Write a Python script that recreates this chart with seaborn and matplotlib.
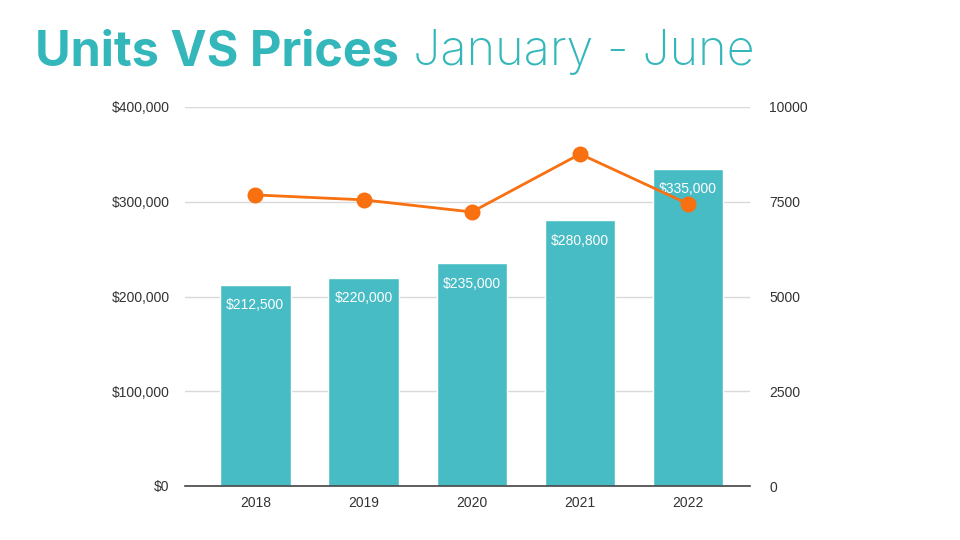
import matplotlib
matplotlib.use("Agg")
import matplotlib.pyplot as plt
import seaborn as sns
import pandas as pd
from matplotlib.ticker import FuncFormatter

years = ["2018", "2019", "2020", "2021", "2022"]
prices = [212500, 220000, 235000, 280800, 335000]
units = [7680, 7550, 7230, 8760, 7440]
price_ticks = [0, 100000, 200000, 300000, 400000]
unit_ticks = [0, 2500, 5000, 7500, 10000]

title_bold = "Units VS Prices"
title_light = "January - June"

BAR = "#47BCC5"
ORANGE = "#F8700F"
TEAL_T = "#33B7BB"
TICK = "#333333"

sns.set_theme(style="white")
plt.rcParams['font.family'] = ['Liberation Sans', 'DejaVu Sans']

df = pd.DataFrame({"year": years, "price": prices, "units": units})

fig = plt.figure(figsize=(9.6, 5.4), dpi=100)
fig.patch.set_facecolor("white")
ax = fig.add_axes([185/960, 1-486/540, (750-185)/960, (486-107)/540])

sns.barplot(data=df, x="year", y="price", color=BAR, width=0.65, saturation=1,
            ax=ax, zorder=2)
ax.set_ylim(0, 400000)
ax.set_xlim(-0.65, 4.57)
ax.set_yticks(price_ticks)
ax.yaxis.set_major_formatter(FuncFormatter(lambda v, p: f"${v:,.0f}"))
ax.grid(axis="y", color="#d9d9d9", linewidth=1, zorder=0)
ax.set_axisbelow(True)
for s in ["top", "right", "left"]:
    ax.spines[s].set_visible(False)
ax.spines["bottom"].set_color("#444444")
ax.spines["bottom"].set_linewidth(1.2)
ax.spines["bottom"].set_zorder(3)
ax.set_xlabel("")
ax.set_ylabel("")
ax.tick_params(axis="both", length=0, labelsize=10, colors=TICK)
ax.tick_params(axis="y", pad=11)
ax.tick_params(axis="x", pad=7)

ax.bar_label(ax.containers[0], labels=[f"${v:,.0f}" for v in prices],
             padding=-20, color="white", fontsize=10)

ax2 = ax.twinx()
sns.pointplot(data=df, x="year", y="units", color=ORANGE, ax=ax2,
              markers="o", markersize=10, linewidth=2, zorder=5)
ax2.set_ylim(0, 10000)
ax2.set_xlim(-0.65, 4.57)
ax2.set_yticks(unit_ticks)
ax2.set_yticklabels([str(t) for t in unit_ticks])
for s in ax2.spines.values():
    s.set_visible(False)
ax2.set_ylabel("")
ax2.set_xlabel("")
ax2.tick_params(axis="y", length=0, labelsize=10, colors=TICK, pad=14)
ax2.grid(False)

t1 = fig.text(35/960, 1-65/540, title_bold, fontsize=35, fontweight="bold",
              color=TEAL_T, family=["Inter", "DejaVu Sans"], va="baseline")
fig.canvas.draw()
bb = t1.get_window_extent(renderer=fig.canvas.get_renderer())
x2 = (bb.x1 + 14) / fig.bbox.width
fig.text(x2, 1-65/540, title_light, fontsize=35, fontweight="light",
         color=TEAL_T, family=["Inter", "DejaVu Sans"], va="baseline")

fig.savefig("out.png", dpi=100, facecolor="white")
